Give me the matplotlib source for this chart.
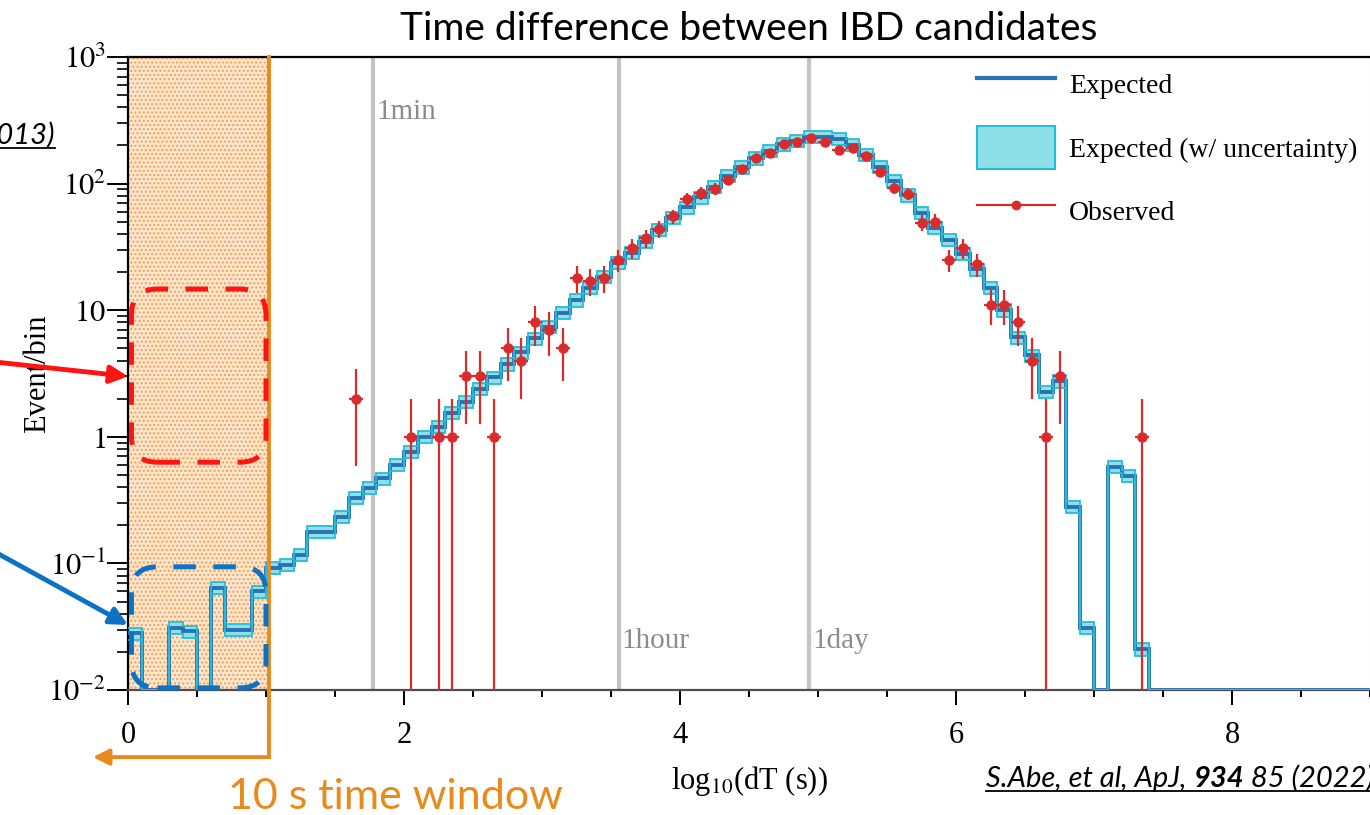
import numpy as np
import matplotlib
matplotlib.use("Agg")
import matplotlib.pyplot as plt
import matplotlib.transforms as mtransforms
from matplotlib.patches import FancyBboxPatch, Patch
from matplotlib.lines import Line2D
from matplotlib.ticker import MultipleLocator, LogLocator, NullFormatter

plt.rcParams["font.family"] = "serif"
plt.rcParams["font.serif"] = ["Liberation Serif", "DejaVu Serif"]
plt.rcParams["mathtext.fontset"] = "stix"

# histogram binning in log10(dT / s)
bin_start = 0.0
bin_width = 0.1

# expected events per bin, one entry per 0.1 bin starting at 0.0
expected = [
    0.028, 0, 0, 0.031, 0.029, 0, 0.064, 0.030, 0.030, 0.060,
    0.092, 0.097, 0.117, 0.177, 0.177, 0.233, 0.328, 0.394, 0.47, 0.60,
    0.76, 1.0, 1.2, 1.55, 1.88, 2.4, 2.95, 3.75, 4.65, 6.0,
    7.4, 9.5, 12.0, 15.0, 18.3, 23.6, 28.3, 34.6, 43, 53.5,
    65, 78, 94, 115, 135, 159, 181, 205, 218, 233,
    233, 226, 202, 169, 136, 105, 81, 59, 45, 36,
    28, 21, 15, 10, 6.1, 4.4, 2.26, 2.75, 0.28, 0.031,
    0, 0.58, 0.49, 0.021, 0, 0, 0, 0, 0, 0,
    0, 0, 0, 0, 0, 0, 0, 0, 0, 0,
]
expected_rel_unc = 0.11

# observed candidate pairs (non-empty bins only)
obs_centers = [
    1.65, 2.05, 2.25, 2.35, 2.45, 2.55, 2.65, 2.75, 2.85, 2.95,
    3.05, 3.15, 3.25, 3.35, 3.45, 3.55, 3.65, 3.75, 3.85, 3.95,
    4.05, 4.15, 4.25, 4.35, 4.45, 4.55, 4.65, 4.75, 4.85, 4.95,
    5.05, 5.15, 5.25, 5.35, 5.45, 5.55, 5.65, 5.75, 5.85, 5.95,
    6.05, 6.15, 6.25, 6.35, 6.45, 6.55, 6.65, 6.75, 7.35,
]
obs_counts = [
    2, 1, 1, 1, 3, 3, 1, 5, 4, 8,
    7, 5, 18, 17, 18, 25, 31, 37, 44, 55,
    75, 84, 91, 107, 130, 159, 174, 205, 213, 229,
    213, 184, 192, 165, 124, 92, 83, 49, 50, 25,
    31, 23, 11, 11, 8, 4, 1, 3, 1,
]

time_marks = ["1min", "1hour", "1day"]
time_mark_seconds = [60, 3600, 86400]
time_mark_label_y = [370, 0.0245, 0.0245]

window_edge = 1.02  # log10 of the 10 s coincidence window (as drawn)

C_EXP = "#2a72b5"
C_BAND = "#8ddfe8"
C_BAND_EDGE = "#27bcd5"
C_OBS = "#d92b2b"
C_GRAY = "#c4c4c4"
C_ORANGE = "#e98a1c"

W, H = 1370, 815
fig = plt.figure(figsize=(W / 100, H / 100), dpi=100)
ax = fig.add_axes([128 / W, 125 / H, (W - 128) / W, 633 / H])
ax.set_yscale("log", nonpositive="clip")
ymin, ymax = 1e-2, 1e3
ax.set_xlim(0, 9)
ax.set_ylim(ymin, ymax)

# 10 s window shading
ax.axvspan(0, window_edge, facecolor="#fde6d0", edgecolor="#f4a04e",
           hatch="....", lw=0, zorder=0.5)

# reference time scales
for name, sec, ly in zip(time_marks, time_mark_seconds, time_mark_label_y):
    xv = np.log10(sec)
    ax.axvline(xv, color=C_GRAY, lw=3, zorder=1)
    ax.text(xv + 0.02, ly, name, color="#8c8c8c", fontsize=21,
            va="center", ha="left", zorder=1)

# expected histogram with its uncertainty band
exp = np.array(expected, dtype=float)
edges = bin_start + bin_width * np.arange(len(exp) + 1)
hi = np.maximum(exp * (1 + expected_rel_unc), ymin)
lo = np.maximum(exp * (1 - expected_rel_unc), ymin)
ax.stairs(hi, edges, baseline=lo, fill=True, color=C_BAND, zorder=2)
ax.stairs(np.maximum(exp, ymin), edges, baseline=None, color=C_EXP, lw=2.8, zorder=3)
ax.stairs(hi, edges, baseline=None, color=C_BAND_EDGE, lw=1.3, zorder=4)
ax.stairs(lo, edges, baseline=None, color=C_BAND_EDGE, lw=1.3, zorder=4)

# observed
n = np.array(obs_counts, dtype=float)
ax.errorbar(obs_centers, n, xerr=bin_width / 2, yerr=np.sqrt(n), fmt="o",
            color=C_OBS, ms=6.5, lw=1.6, capsize=0, zorder=5)

# axes styling
ax.xaxis.set_major_locator(MultipleLocator(2))
ax.xaxis.set_minor_locator(MultipleLocator(0.5))
ax.set_yticks([1e-2, 1e-1, 1, 10, 1e2, 1e3])
ax.set_yticklabels([r"$10^{-2}$", r"$10^{-1}$", r"$1$", r"$10$", r"$10^{2}$", r"$10^{3}$"])
ax.yaxis.set_minor_locator(LogLocator(base=10, subs=np.arange(2, 10)))
ax.yaxis.set_minor_formatter(NullFormatter())
ax.tick_params(axis="x", which="major", direction="out", length=11, width=1.4,
               labelsize=22, pad=11)
ax.tick_params(axis="x", which="minor", direction="out", length=5, width=1.4)
ax.tick_params(axis="y", which="major", direction="out", length=15, width=1.4,
               labelsize=22, pad=1)
ax.tick_params(axis="y", which="minor", direction="out", length=8, width=1.2)
for side in ["top", "left"]:
    ax.spines[side].set_linewidth(1.6)
    ax.spines[side].set_color("black")
ax.spines["bottom"].set_linewidth(1.6)
ax.spines["bottom"].set_color("#4d4d55")
ax.spines["right"].set_color("#cccccc")

ax.set_xlabel(r"log$_{10}$(dT (s))", fontsize=22, va="top")
ax.xaxis.set_label_coords(4.5 / 9, -0.117)
ax.set_ylabel("Event/bin", fontsize=22)
ax.yaxis.set_label_coords(-0.061, 0.5)

fig.text(749 / W, 1 - 29 / H, "Time difference between IBD candidates",
         family="Lato", fontsize=28, ha="center", va="center")

handles = [
    Line2D([], [], color=C_EXP, lw=3),
    Patch(facecolor=C_BAND, edgecolor=C_BAND_EDGE, lw=1.5),
    Line2D([], [], color=C_OBS, lw=1.6, marker="o", ms=6),
]
ax.legend(handles, ["Expected", "Expected (w/ uncertainty)", "Observed"],
          loc="upper right", bbox_to_anchor=(1 - 7 / 1242, 1.0),
          frameon=False, fontsize=20, handlelength=2.8,
          handleheight=2.0, handletextpad=0.5, labelspacing=0.75,
          borderaxespad=0.0, borderpad=0.2)

# dashed call-out boxes inside the window
inch = fig.dpi_scale_trans.inverted()


def callout_box(x0, x1, y0, y1, color):
    a = inch.transform(ax.transData.transform((x0, y0)))
    b = inch.transform(ax.transData.transform((x1, y1)))
    box = FancyBboxPatch(a, b[0] - a[0], b[1] - a[1],
                         boxstyle="round,pad=0,rounding_size=0.26",
                         transform=fig.dpi_scale_trans, fill=False, ec=color,
                         lw=3.6, ls=(0, (4.5, 3.5)), zorder=6)
    fig.add_artist(box)


callout_box(0.025, 1.0, 0.63, 14.7, "#ff1414")
callout_box(0.025, 1.0, 0.0104, 0.094, "#0b72c4")

ax.annotate("", xy=(0.0, 3.0), xycoords="data", xytext=(-5, H - 362),
            textcoords="figure pixels", annotation_clip=False,
            arrowprops=dict(arrowstyle="-|>", mutation_scale=26, lw=3.5,
                            color="#ff1414", shrinkA=0, shrinkB=0))
ax.annotate("", xy=(0.0, 0.0326), xycoords="data", xytext=(-5, H - 552),
            textcoords="figure pixels", annotation_clip=False,
            arrowprops=dict(arrowstyle="-|>", mutation_scale=26, lw=3.5,
                            color="#0b72c4", shrinkA=0, shrinkB=0))

# window edge bracket pointing back to short dT
blend = mtransforms.blended_transform_factory(ax.transData, ax.transAxes)
ax.plot([window_edge, window_edge], [1.0, -0.106], transform=blend,
        color=C_ORANGE, lw=2.8, clip_on=False, zorder=7, solid_capstyle="projecting")
ax.annotate("", xy=(-0.255, -0.106), xycoords=("data", "axes fraction"),
            xytext=(window_edge, -0.106), textcoords=("data", "axes fraction"),
            annotation_clip=False,
            arrowprops=dict(arrowstyle="-|>", mutation_scale=24, lw=2.8,
                            color=C_ORANGE, shrinkA=0, shrinkB=0))
fig.text(395 / W, 1 - 809 / H, "10 s time window", family="Lato", fontsize=31,
         color=C_ORANGE, ha="center", va="baseline")

# references
fig.canvas.draw()
renderer = fig.canvas.get_renderer()
cite_kw = dict(family="Lato", style="italic", fontsize=21, va="baseline")
t1 = fig.text(986 / W, 1 - 787 / H, "S.Abe, et al, ApJ, ", **cite_kw)
t2 = ax.annotate("934", xy=(1, 0), xycoords=t1, va="bottom", ha="left",
                 family="Lato", style="italic", weight="bold", fontsize=21,
                 annotation_clip=False)
t3 = ax.annotate(" 85 (2022)", xy=(1, 0), xycoords=t2, va="bottom", ha="left",
                 family="Lato", style="italic", fontsize=21, annotation_clip=False)
t0 = fig.text(55 / W, 1 - 144 / H, "(2013)", ha="right", **cite_kw)
fig.canvas.draw()
for first, last in [(t1, t3), (t0, t0)]:
    b0 = first.get_window_extent(renderer)
    b1 = last.get_window_extent(renderer)
    yl = b0.y0 + 1
    fig.add_artist(Line2D([b0.x0, b1.x1], [yl, yl], color="black", lw=1.3,
                          transform=mtransforms.IdentityTransform()))

fig.savefig("out.png", dpi=100)
